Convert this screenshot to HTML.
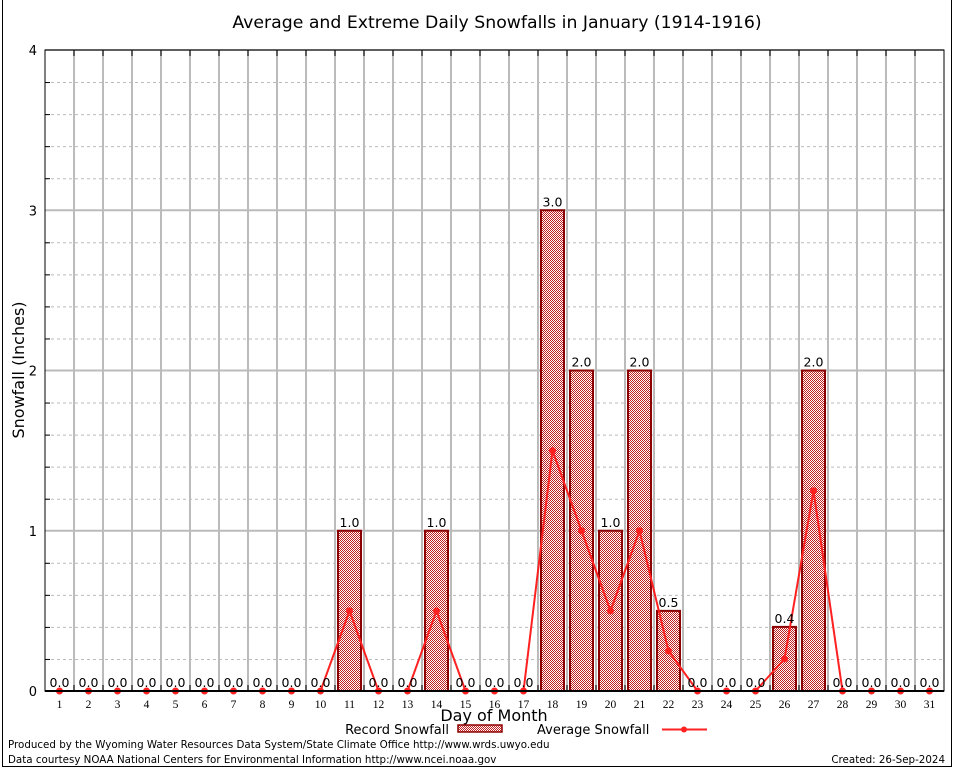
<!DOCTYPE html>
<html><head><meta charset="utf-8"><style>
body{margin:0;background:#fff}
svg{display:block;font-family:"DejaVu Sans","Liberation Sans",sans-serif}
</style></head><body>
<svg id="chart" width="954" height="768" viewBox="0 0 954 768" xmlns="http://www.w3.org/2000/svg">
<defs>
<pattern id="chk" width="2" height="2" patternUnits="userSpaceOnUse">
<rect width="2" height="2" fill="#fff"/><rect width="1" height="1" fill="#c02020"/><rect x="1" y="1" width="1" height="1" fill="#c02020"/>
</pattern>
</defs>
<line x1="2.5" y1="0" x2="2.5" y2="766" stroke="#000"/>
<line x1="951.5" y1="0" x2="951.5" y2="766" stroke="#000"/>
<line x1="2" y1="766.5" x2="952" y2="766.5" stroke="#000"/>
<text x="497" y="28" font-size="17.3" text-anchor="middle">Average and Extreme Daily Snowfalls in January (1914-1916)</text>
<g id="grid"></g><g id="bars"></g><g id="line"></g><g id="labels"></g><g id="axes"></g>
<text x="24" y="370" font-size="16" text-anchor="middle" transform="rotate(-90 24 370)">Snowfall (Inches)</text>
<text x="494" y="721" font-size="16" text-anchor="middle">Day of Month</text>
<g>
<text x="449" y="734" font-size="13" text-anchor="end">Record Snowfall</text>
<rect x="458" y="725" width="44" height="7" fill="url(#chk)" stroke="#8b0000" stroke-width="1.5"/>
<text x="537" y="734" font-size="13">Average Snowfall</text>
<line x1="662" y1="729.5" x2="707" y2="729.5" stroke="#ff2020" stroke-width="2"/>
<circle cx="684" cy="729.5" r="3" fill="#ff2020"/>
</g>
<text x="8" y="748" font-size="10.3">Produced by the Wyoming Water Resources Data System/State Climate Office http://www.wrds.uwyo.edu</text>
<text x="8" y="763" font-size="10.3">Data courtesy NOAA National Centers for Environmental Information http://www.ncei.noaa.gov</text>
<text x="945" y="763" font-size="10.3" text-anchor="end">Created:  26-Sep-2024</text>
</svg>
<script>
const days=[1,2,3,4,5,6,7,8,9,10,11,12,13,14,15,16,17,18,19,20,21,22,23,24,25,26,27,28,29,30,31];
const recordValues=[0,0,0,0,0,0,0,0,0,0,1.0,0,0,1.0,0,0,0,3.0,2.0,1.0,2.0,0.5,0,0,0,0.4,2.0,0,0,0,0];
const averageValues=[0,0,0,0,0,0,0,0,0,0,0.5,0,0,0.5,0,0,0,1.5,1.0,0.5,1.0,0.25,0,0,0,0.2,1.25,0,0,0,0];
const yTicks=[0,1,2,3,4];
const L=45,R=944,T=50,B=691,yMax=4;
const NS="http://www.w3.org/2000/svg";
const step=(R-L)/days.length;
function xs(d){return L+(d-0.5)*step;}
function ys(v){return B-(v/yMax)*(B-T);}
function mk(tag,attrs,parent,txt){const e=document.createElementNS(NS,tag);for(const k in attrs)e.setAttribute(k,attrs[k]);if(txt!==undefined)e.textContent=txt;document.getElementById(parent).appendChild(e);return e;}
for(let v=0;v<=yMax+1e-9;v+=0.2){const y=ys(v);if(Math.abs(v-Math.round(v))<1e-6)continue;
const g=mk('line',{x1:L,x2:R,y1:y+0.5,y2:y+0.5,stroke:'#bbb','stroke-dasharray':'3,3'},'grid');


const t1=mk('line',{x1:L,x2:L+5,y1:y+0.5,y2:y+0.5,stroke:'#000'},'axes');

}
yTicks.forEach(v=>{const y=ys(v);
const g=mk('line',{x1:L,x2:R,y1:y,y2:y,stroke:'#bbb','stroke-width':2},'grid');


const t=mk('text',{x:L-8,y:y+5,'font-size':13,'text-anchor':'end',fill:'#000'},'axes',String(v));

});
for(let i=1;i<days.length;i++){const x=L+i*step;
const g=mk('line',{x1:x,x2:x,y1:T,y2:B,stroke:'#bbb','stroke-width':2},'grid');


const tk=mk('line',{x1:x,x2:x,y1:T,y2:T+6,stroke:'#000'},'axes');


const tb=mk('line',{x1:x,x2:x,y1:B-6,y2:B,stroke:'#000'},'axes');

}
days.forEach((d,i)=>{const x=xs(d);
const v=recordValues[i];
if(v>0){const b=mk('rect',{x:x-11.5,y:ys(v),width:23,height:B-ys(v),fill:'url(#chk)',stroke:'#8b0000','stroke-width':2},'bars');

}
const lab=mk('text',{x:x,y:ys(v)-4,'font-size':12.5,'text-anchor':'middle'},'labels',v.toFixed(1));


const xl=mk('text',{x:x,y:708,'font-size':11.5,'text-anchor':'middle','font-family':'Liberation Serif, serif'},'axes',String(d));

});
const pts=days.map((d,i)=>xs(d)+','+ys(averageValues[i])).join(' ');
const pl=mk('polyline',{points:pts,fill:'none',stroke:'#ff2020','stroke-width':2},'line');


days.forEach((d,i)=>{const c=mk('circle',{cx:xs(d),cy:ys(averageValues[i]),r:3.5,fill:'#ff2020'},'line');

});
const ax=mk('rect',{x:L,y:T,width:R-L,height:B-T,fill:'none',stroke:'#000','stroke-width':1},'axes');


const bl=mk('line',{x1:L,x2:R,y1:B,y2:B,stroke:'#000','stroke-width':2},'axes');


</script>
</body></html>
